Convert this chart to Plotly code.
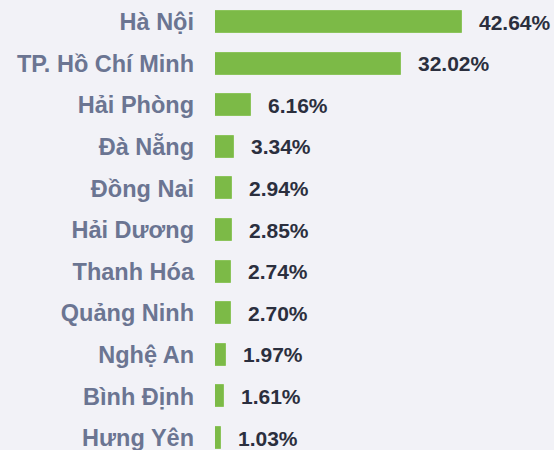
"""Horizontal bar chart: share by province/city."""

import plotly.graph_objects as go

provinces = [
    "Hà Nội",
    "TP. Hồ Chí Minh",
    "Hải Phòng",
    "Đà Nẵng",
    "Đồng Nai",
    "Hải Dương",
    "Thanh Hóa",
    "Quảng Ninh",
    "Nghệ An",
    "Bình Định",
    "Hưng Yên",
]
shares = [42.64, 32.02, 6.16, 3.34, 2.94, 2.85, 2.74, 2.70, 1.97, 1.61, 1.03]

BAR_COLOR = "#7cba47"
LABEL_COLOR = "#6b7592"
VALUE_COLOR = "#2b2f3e"
BG_COLOR = "#f2f2f7"
FONT = "Liberation Sans, Arial, sans-serif"

fig = go.Figure()
fig.add_trace(
    go.Bar(
        x=shares,
        y=provinces,
        orientation="h",
        width=0.53,
        marker=dict(color=BAR_COLOR, line=dict(color="#8cc45c", width=1)),
        hoverinfo="skip",
    )
)

for name, value in zip(provinces, shares):
    fig.add_annotation(
        x=value,
        y=name,
        text=f"{value:.2f}%",
        xanchor="left",
        xshift=15,
        showarrow=False,
        font=dict(family=FONT, size=21, color=VALUE_COLOR, weight="bold"),
    )

fig.update_layout(
    width=554,
    height=450,
    margin=dict(l=215, r=0, t=0, b=0),
    paper_bgcolor=BG_COLOR,
    plot_bgcolor=BG_COLOR,
    showlegend=False,
    bargap=0,
)
fig.update_xaxes(
    range=[0, 58.5],
    showgrid=False,
    zeroline=False,
    showticklabels=False,
    showline=False,
)
fig.update_yaxes(
    type="category",
    categoryorder="array",
    categoryarray=provinces,
    range=[10.288, -0.529],
    showgrid=False,
    zeroline=False,
    showline=False,
    ticks="",
    ticklabelstandoff=20,
    tickfont=dict(family=FONT, size=23.5, color=LABEL_COLOR, weight="bold"),
)

# drop the default page margin so the 554x450 figure sits at the corner
fig.write_html(
    "out.html",
    config={"displayModeBar": False},
    post_script="document.body.style.margin='0';",
)
